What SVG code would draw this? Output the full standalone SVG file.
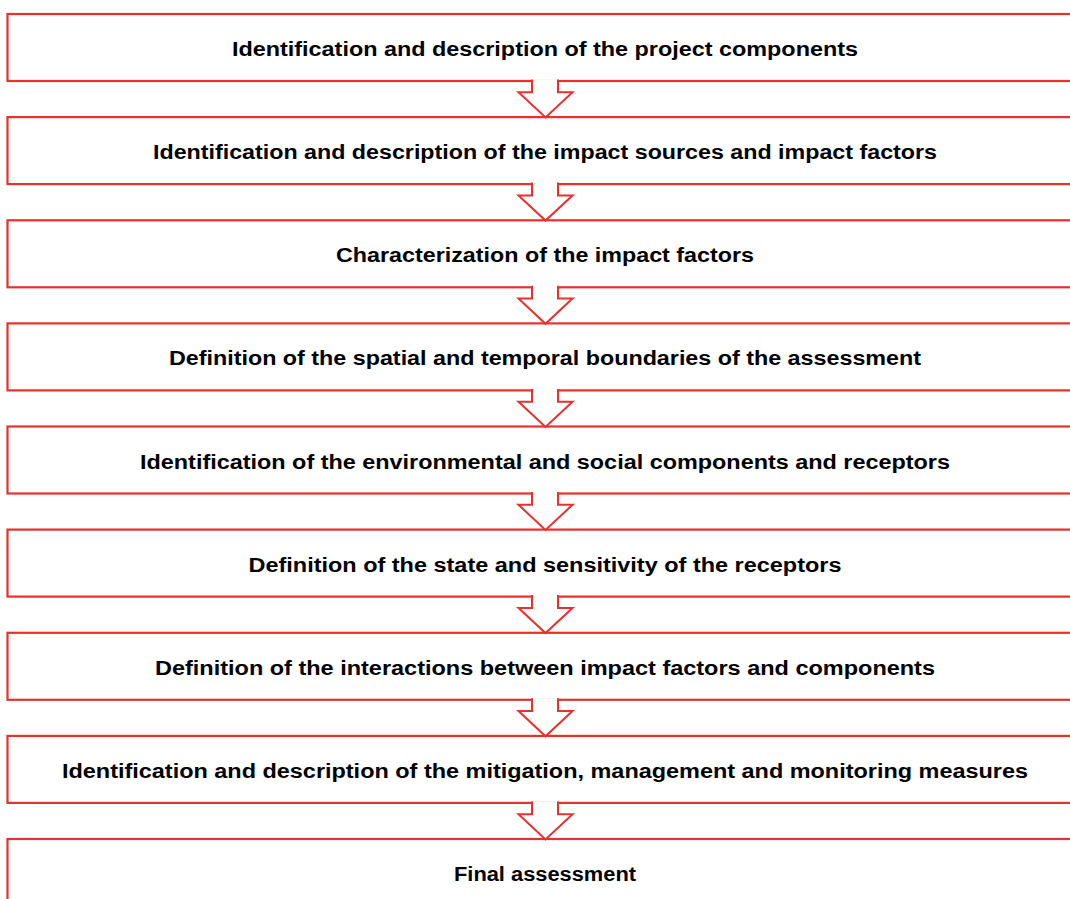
<svg xmlns="http://www.w3.org/2000/svg" width="1070" height="899" viewBox="0 0 1070 899">
<style>
.box{fill:#fff;stroke:#E8302E;stroke-width:2.2}
.arr{fill:#fff;stroke:#E8302E;stroke-width:2;stroke-linejoin:miter}
.t{font-family:"Liberation Sans",Arial,sans-serif;font-weight:bold;font-size:20px;fill:#000;text-anchor:middle}
</style>
<rect width="1070" height="899" fill="#fff"/>
<g id="n1"><rect class="box" x="7.5" y="14" width="1080" height="67"/><text class="t" x="545" y="56" textLength="626" lengthAdjust="spacingAndGlyphs">Identification and description of the project components</text></g>
<g id="n2"><rect class="box" x="7.5" y="117.1" width="1080" height="67"/><text class="t" x="545" y="159.1" textLength="784" lengthAdjust="spacingAndGlyphs">Identification and description of the impact sources and impact factors</text></g>
<g id="n3"><rect class="box" x="7.5" y="220.3" width="1080" height="67"/><text class="t" x="545" y="262.3" textLength="418" lengthAdjust="spacingAndGlyphs">Characterization of the impact factors</text></g>
<g id="n4"><rect class="box" x="7.5" y="323.4" width="1080" height="67"/><text class="t" x="545" y="365.4" textLength="752" lengthAdjust="spacingAndGlyphs">Definition of the spatial and temporal boundaries of the assessment</text></g>
<g id="n5"><rect class="box" x="7.5" y="426.5" width="1080" height="67"/><text class="t" x="545" y="468.5" textLength="810" lengthAdjust="spacingAndGlyphs">Identification of the environmental and social components and receptors</text></g>
<g id="n6"><rect class="box" x="7.5" y="529.6" width="1080" height="67"/><text class="t" x="545" y="571.6" textLength="593" lengthAdjust="spacingAndGlyphs">Definition of the state and sensitivity of the receptors</text></g>
<g id="n7"><rect class="box" x="7.5" y="632.8" width="1080" height="67"/><text class="t" x="545" y="674.8" textLength="780" lengthAdjust="spacingAndGlyphs">Definition of the interactions between impact factors and components</text></g>
<g id="n8"><rect class="box" x="7.5" y="735.9" width="1080" height="67"/><text class="t" x="545" y="777.9" textLength="966" lengthAdjust="spacingAndGlyphs">Identification and description of the mitigation, management and monitoring measures</text></g>
<g id="n9"><rect class="box" x="7.5" y="839" width="1080" height="80"/><text class="t" x="545" y="881" textLength="182" lengthAdjust="spacingAndGlyphs">Final assessment</text></g>
<g id="connectors">
<polyline class="arr" points="532,79.5 532,92.3 518.5,92.3 545.5,117.5 572.5,92.3 558,92.3 558,79.5"/>
<polyline class="arr" points="532,182.6 532,195.4 518.5,195.4 545.5,220.6 572.5,195.4 558,195.4 558,182.6"/>
<polyline class="arr" points="532,285.8 532,298.6 518.5,298.6 545.5,323.8 572.5,298.6 558,298.6 558,285.8"/>
<polyline class="arr" points="532,388.9 532,401.7 518.5,401.7 545.5,426.9 572.5,401.7 558,401.7 558,388.9"/>
<polyline class="arr" points="532,492 532,504.8 518.5,504.8 545.5,530 572.5,504.8 558,504.8 558,492"/>
<polyline class="arr" points="532,595.1 532,607.9 518.5,607.9 545.5,633.1 572.5,607.9 558,607.9 558,595.1"/>
<polyline class="arr" points="532,698.3 532,711.1 518.5,711.1 545.5,736.3 572.5,711.1 558,711.1 558,698.3"/>
<polyline class="arr" points="532,801.4 532,814.2 518.5,814.2 545.5,839.4 572.5,814.2 558,814.2 558,801.4"/>
</g>
</svg>
